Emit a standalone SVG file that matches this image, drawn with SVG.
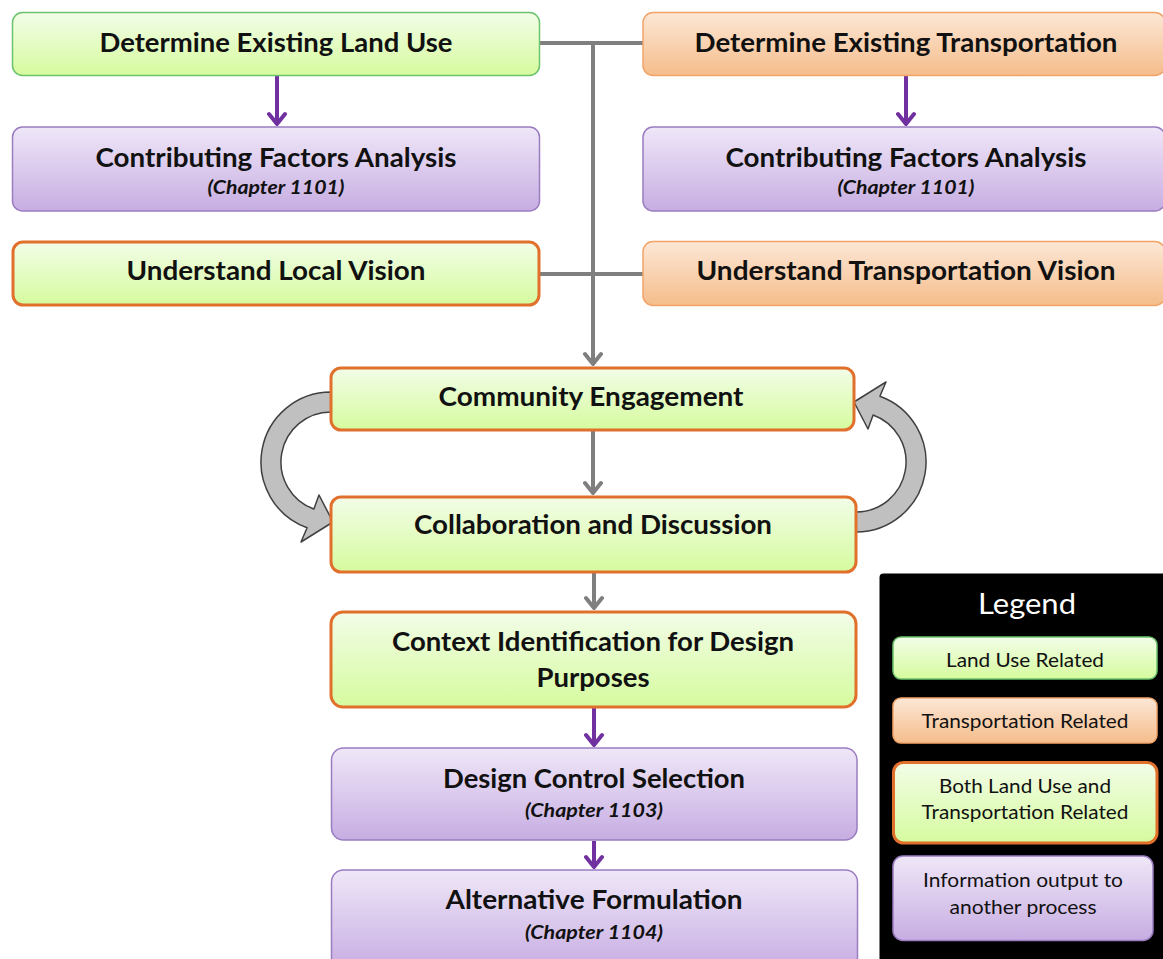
<svg xmlns="http://www.w3.org/2000/svg" width="1163" height="959" viewBox="0 0 1163 959">
<defs>
<linearGradient id="gGreen" x1="0" y1="0" x2="0" y2="1"><stop offset="0" stop-color="#f2fde8"/><stop offset="1" stop-color="#d6fb9e"/></linearGradient>
<linearGradient id="gOrange" x1="0" y1="0" x2="0" y2="1"><stop offset="0" stop-color="#fce7d6"/><stop offset="1" stop-color="#f5bd8b"/></linearGradient>
<linearGradient id="gPurple" x1="0" y1="0" x2="0" y2="1"><stop offset="0" stop-color="#efe7f8"/><stop offset="1" stop-color="#c7ade2"/></linearGradient>
<marker id="mPurple" viewBox="-14 -11 16 22" refX="0" refY="0" markerWidth="16" markerHeight="22" markerUnits="userSpaceOnUse" orient="auto">
<path d="M -10 -8 L 0 0 L -10 8" fill="none" stroke="#7030a0" stroke-width="4" stroke-linejoin="round" stroke-linecap="round"/>
</marker>
<marker id="mGray" viewBox="-14 -11 16 22" refX="0" refY="0" markerWidth="16" markerHeight="22" markerUnits="userSpaceOnUse" orient="auto">
<path d="M -10 -8 L 0 0 L -10 8" fill="none" stroke="#7f7f7f" stroke-width="4" stroke-linejoin="round" stroke-linecap="round"/>
</marker>
<path id="curveArrow" d="M 0 -70 A 70 70 0 0 0 -23.9 65.8 L -30 80 L 2 60 L -12 33 L -17.1 47 A 50 50 0 0 1 0 -50 Z"/>
</defs>
<style>
.green{fill:url(#gGreen);stroke:#6cc36c;stroke-width:1.5}
.orange{fill:url(#gOrange);stroke:#f2a468;stroke-width:1.5}
.both{fill:url(#gGreen);stroke:#e0702c;stroke-width:3}
.purple{fill:url(#gPurple);stroke:#9a7cc0;stroke-width:1.5}
.t{font-family:Lato,"Liberation Sans",sans-serif;font-weight:bold;font-size:26px;fill:#111;text-anchor:middle}
.ch{font-family:Lato,"Liberation Sans",sans-serif;font-weight:bold;font-style:italic;font-size:19px;fill:#111;text-anchor:middle}
.lg{font-family:Lato,"Liberation Sans",sans-serif;font-size:20px;fill:#111;text-anchor:middle}
.lgt{font-family:Lato,"Liberation Sans",sans-serif;font-size:28px;fill:#fff;text-anchor:middle}
.gl{fill:none;stroke:#7f7f7f;stroke-width:4}
.pl{fill:none;stroke:#7030a0;stroke-width:4}
.ca{fill:#c0c0c0;stroke:#404040;stroke-width:1.5;stroke-linejoin:round}
</style>
<rect width="1163" height="959" fill="#fff"/>

<g id="connectors">
<path class="gl" d="M 540 43 H 643"/>
<path class="gl" d="M 540 274 H 643"/>
<path class="gl" d="M 593 43 V 364" marker-end="url(#mGray)"/>
<path class="gl" d="M 593 430 V 493" marker-end="url(#mGray)"/>
<path class="gl" d="M 594 572 V 608" marker-end="url(#mGray)"/>
<path class="pl" d="M 277 76 V 124" marker-end="url(#mPurple)"/>
<path class="pl" d="M 906 76 V 124" marker-end="url(#mPurple)"/>
<path class="pl" d="M 594 708 V 745" marker-end="url(#mPurple)"/>
<path class="pl" d="M 594 841 V 867" marker-end="url(#mPurple)"/>
<use href="#curveArrow" class="ca" transform="translate(331 462)"/>
<use href="#curveArrow" class="ca" transform="translate(856 462) rotate(180)"/>
</g>

<g id="n-land-use"><rect class="green" x="12.5" y="12.5" width="527" height="63" rx="10"/>
<text class="t" x="276" y="52" textLength="353" lengthAdjust="spacingAndGlyphs">Determine Existing Land Use</text></g>
<g id="n-transportation"><rect class="orange" x="643" y="12.5" width="522" height="63" rx="10"/>
<text class="t" x="906" y="52" textLength="423" lengthAdjust="spacingAndGlyphs">Determine Existing Transportation</text></g>
<g id="n-cfa-left"><rect class="purple" x="12.5" y="127" width="527" height="84" rx="10"/>
<text class="t" x="276" y="167" textLength="361" lengthAdjust="spacingAndGlyphs">Contributing Factors Analysis</text>
<text class="ch" x="276" y="194" textLength="137" lengthAdjust="spacingAndGlyphs">(Chapter 1101)</text></g>
<g id="n-cfa-right"><rect class="purple" x="643" y="127" width="522" height="84" rx="10"/>
<text class="t" x="906" y="167" textLength="361" lengthAdjust="spacingAndGlyphs">Contributing Factors Analysis</text>
<text class="ch" x="906" y="194" textLength="137" lengthAdjust="spacingAndGlyphs">(Chapter 1101)</text></g>
<g id="n-local-vision"><rect class="both" x="13" y="242" width="526" height="63" rx="10"/>
<text class="t" x="276" y="280" textLength="299" lengthAdjust="spacingAndGlyphs">Understand Local Vision</text></g>
<g id="n-transport-vision"><rect class="orange" x="643" y="241.5" width="522" height="64" rx="10"/>
<text class="t" x="906" y="280" textLength="419" lengthAdjust="spacingAndGlyphs">Understand Transportation Vision</text></g>
<g id="n-community"><rect class="both" x="331" y="368" width="523" height="62" rx="10"/>
<text class="t" x="591" y="406" textLength="305" lengthAdjust="spacingAndGlyphs">Community Engagement</text></g>
<g id="n-collab"><rect class="both" x="331" y="497" width="525" height="75" rx="10"/>
<text class="t" x="593" y="534" textLength="358" lengthAdjust="spacingAndGlyphs">Collaboration and Discussion</text></g>
<g id="n-context"><rect class="both" x="331" y="612" width="525" height="95" rx="12"/>
<text class="t" x="593" y="651" textLength="402" lengthAdjust="spacingAndGlyphs">Context Identification for Design</text>
<text class="t" x="593" y="687" textLength="113" lengthAdjust="spacingAndGlyphs">Purposes</text></g>
<g id="n-design-control"><rect class="purple" x="331.5" y="748" width="525.5" height="92" rx="12"/>
<text class="t" x="594" y="788" textLength="302" lengthAdjust="spacingAndGlyphs">Design Control Selection</text>
<text class="ch" x="594" y="817" textLength="138" lengthAdjust="spacingAndGlyphs">(Chapter 1103)</text></g>
<g id="n-alternative"><rect class="purple" x="331.5" y="870" width="526" height="100" rx="12"/>
<text class="t" x="594" y="909" textLength="297" lengthAdjust="spacingAndGlyphs">Alternative Formulation</text>
<text class="ch" x="594" y="939" textLength="138" lengthAdjust="spacingAndGlyphs">(Chapter 1104)</text></g>

<g id="legend">
<rect x="879.5" y="573.5" width="290" height="400" rx="4" fill="#000"/>
<text class="lgt" x="1027" y="614" textLength="98" lengthAdjust="spacingAndGlyphs">Legend</text>
<rect class="green" x="893" y="637" width="264" height="42" rx="8"/>
<text class="lg" x="1025" y="667" textLength="158" lengthAdjust="spacingAndGlyphs">Land Use Related</text>
<rect class="orange" x="893" y="698" width="264" height="45" rx="8"/>
<text class="lg" x="1025" y="728" textLength="207" lengthAdjust="spacingAndGlyphs">Transportation Related</text>
<rect class="both" x="893.5" y="762.5" width="263.5" height="80.5" rx="10"/>
<text class="lg" x="1025" y="793" textLength="172" lengthAdjust="spacingAndGlyphs">Both Land Use and</text>
<text class="lg" x="1025" y="819" textLength="207" lengthAdjust="spacingAndGlyphs">Transportation Related</text>
<rect class="purple" x="893" y="856" width="260" height="84.5" rx="10"/>
<text class="lg" x="1023" y="887" textLength="200" lengthAdjust="spacingAndGlyphs">Information output to</text>
<text class="lg" x="1023" y="914" textLength="147" lengthAdjust="spacingAndGlyphs">another process</text>
</g>
</svg>
